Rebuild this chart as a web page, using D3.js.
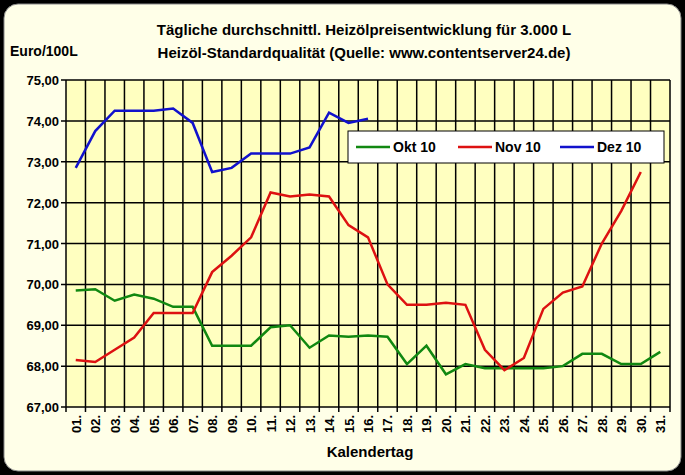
<!DOCTYPE html>
<html><head><meta charset="utf-8">
<script src="https://cdn.jsdelivr.net/npm/d3@7"></script>
<style>body{margin:0;background:#000}</style>
</head><body>
<script>
var days = d3.range(1, 32).map(function(d){ return (d < 10 ? "0" : "") + d + "."; });
var okt = [69.85,69.88,69.6,69.75,69.65,69.45,69.45,68.5,68.5,68.5,68.95,69.0,68.45,68.75,68.72,68.75,68.72,68.05,68.5,67.8,68.05,67.95,67.95,67.95,67.95,68.0,68.3,68.3,68.05,68.05,68.35];
var nov = [68.15,68.1,68.4,68.7,69.3,69.3,69.3,70.3,70.7,71.15,72.25,72.15,72.2,72.15,71.45,71.15,70.0,69.5,69.5,69.55,69.5,68.4,67.9,68.2,69.4,69.8,69.95,71.0,71.8,72.75];
var dez = [72.85,73.75,74.25,74.25,74.25,74.3,73.95,72.75,72.85,73.2,73.2,73.2,73.35,74.2,73.95,74.05];
var yTicks = [67,68,69,70,71,72,73,74,75];
var series = [{name:"Okt 10", values:okt, color:"#118811"},
              {name:"Nov 10", values:nov, color:"#dd1111"},
              {name:"Dez 10", values:dez, color:"#1111cc"}];

var W = 685, H = 475;
var margin = {top: 80, right: 15, bottom: 68, left: 66};
var svg = d3.select("body").append("svg").attr("width", W).attr("height", H);
svg.append("rect").attr("x", 4).attr("y", 4).attr("width", W - 8).attr("height", H - 8)
   .attr("rx", 14).attr("fill", "#ffffe8").attr("stroke", "#888");

var x = d3.scaleBand().domain(days).range([margin.left, W - margin.right]);
var y = d3.scaleLinear().domain([67, 75]).range([H - margin.bottom, margin.top]);

svg.append("rect").attr("x", margin.left).attr("y", margin.top)
   .attr("width", W - margin.left - margin.right).attr("height", H - margin.top - margin.bottom)
   .attr("fill", "#ffffc0");

var g = svg.append("g");
g.selectAll(".hg").data(yTicks).join("line")
 .attr("x1", margin.left - 5).attr("x2", W - margin.right)
 .attr("y1", y).attr("y2", y).attr("stroke", "#000").attr("stroke-width", 1.5);
g.selectAll(".vg").data(days).join("line")
 .attr("x1", function(d){ return x(d); }).attr("x2", function(d){ return x(d); })
 .attr("y1", margin.top).attr("y2", H - margin.bottom + 5).attr("stroke", "#000").attr("stroke-width", 1.5);
g.append("line").attr("x1", W - margin.right).attr("x2", W - margin.right)
 .attr("y1", margin.top).attr("y2", H - margin.bottom + 5).attr("stroke", "#000").attr("stroke-width", 1.5);

svg.selectAll(".yl").data(yTicks).join("text")
 .attr("x", margin.left - 7).attr("y", function(d){ return y(d) + 5; })
 .attr("text-anchor", "end").attr("font-family", "Arial, Liberation Sans").attr("font-weight", "bold")
 .attr("font-size", 13).text(function(d){ return d3.format(".2f")(d).replace(".", ","); });

svg.selectAll(".xl").data(days).join("text")
 .attr("transform", function(d){ return "translate(" + (x(d) + x.bandwidth()/2 + 5) + "," + (H - margin.bottom + 8) + ") rotate(-90)"; })
 .attr("text-anchor", "end").attr("font-family", "Arial, Liberation Sans").attr("font-weight", "bold")
 .attr("font-size", 13).text(function(d){ return d; });

var line = d3.line().x(function(d, i){ return x(days[i]) + x.bandwidth()/2; }).y(function(d){ return y(d); });
series.forEach(function(s){
  svg.append("path").datum(s.values).attr("d", line).attr("fill", "none")
     .attr("stroke", s.color).attr("stroke-width", 2.5);
});

// legend
var lg = svg.append("g").attr("transform", "translate(348,131)");
lg.append("rect").attr("width", 316).attr("height", 32).attr("fill", "#fff").attr("stroke", "#000");
series.forEach(function(s, i){
  var ox = 8 + i * 102;
  lg.append("line").attr("x1", ox).attr("x2", ox + 34).attr("y1", 16).attr("y2", 16)
    .attr("stroke", s.color).attr("stroke-width", 2.5);
  lg.append("text").attr("x", ox + 37).attr("y", 21).attr("font-family", "Arial, Liberation Sans")
    .attr("font-weight", "bold").attr("font-size", 14).text(s.name);
});

function txt(t, xx, yy, anchor, size){
  return svg.append("text").attr("x", xx).attr("y", yy).attr("text-anchor", anchor)
    .attr("font-family", "Arial, Liberation Sans").attr("font-weight", "bold")
    .attr("font-size", size).text(t);
}
txt("Tägliche durchschnittl. Heizölpreisentwicklung für 3.000 L", 364, 35, "middle", 15);
txt("Heizöl-Standardqualität (Quelle: www.contentserver24.de)", 364, 58, "middle", 15);
txt("Euro/100L", 10, 56, "start", 14);
txt("Kalendertag", 370, 457, "middle", 15);
</script>
</body></html>
